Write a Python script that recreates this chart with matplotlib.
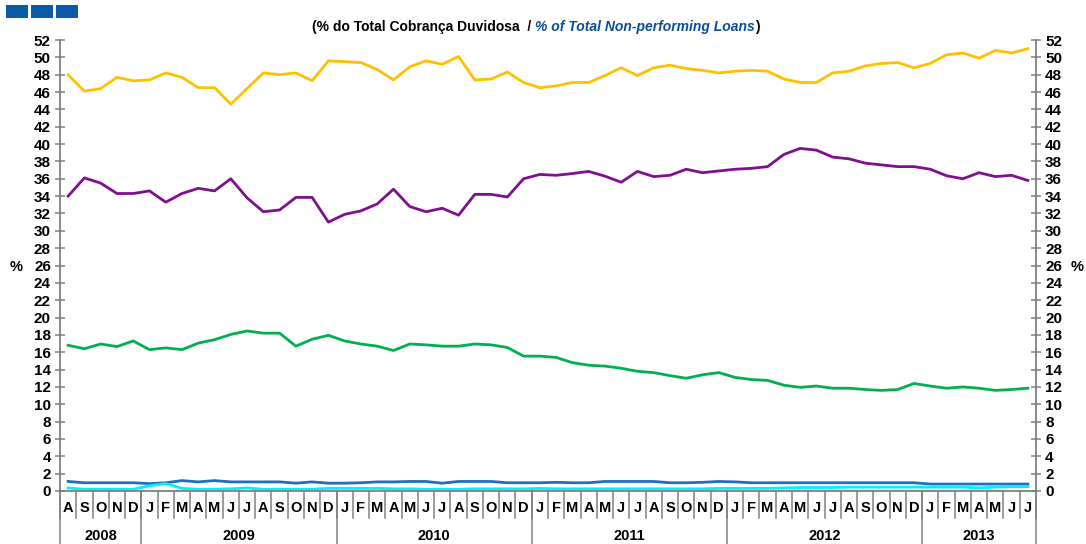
import matplotlib
matplotlib.use("Agg")
import matplotlib.pyplot as plt
from matplotlib.patches import Rectangle
import numpy as np

plt.rcParams['font.family'] = ['Liberation Sans', 'DejaVu Sans']

months = (['A', 'S', 'O', 'N', 'D'] + ['J', 'F', 'M', 'A', 'M', 'J', 'J', 'A', 'S', 'O', 'N', 'D'] * 4
          + ['J', 'F', 'M', 'A', 'M', 'J', 'J'])
years = ['2008', '2009', '2010', '2011', '2012', '2013']
year_counts = [5, 12, 12, 12, 12, 7]

yellow = [48.0, 46.1, 46.4, 47.7, 47.3,
          47.4, 48.2, 47.7, 46.5, 46.5, 44.6, 46.4, 48.2, 48.0, 48.2, 47.3, 49.6,
          49.5, 49.4, 48.6, 47.4, 48.9, 49.6, 49.2, 50.1, 47.4, 47.5, 48.3, 47.1,
          46.5, 46.7, 47.1, 47.1, 47.9, 48.8, 47.9, 48.8, 49.1, 48.7, 48.5, 48.2,
          48.4, 48.5, 48.4, 47.5, 47.1, 47.1, 48.2, 48.4, 49.0, 49.3, 49.4, 48.8,
          49.3, 50.3, 50.5, 49.9, 50.8, 50.5, 51.0]
purple = [34.0, 36.1, 35.5, 34.3, 34.3,
          34.6, 33.3, 34.3, 34.9, 34.6, 36.0, 33.8, 32.2, 32.4, 33.85, 33.85, 31.0,
          31.9, 32.3, 33.1, 34.8, 32.8, 32.2, 32.6, 31.8, 34.2, 34.2, 33.9, 36.0,
          36.5, 36.4, 36.6, 36.85, 36.3, 35.6, 36.85, 36.25, 36.4, 37.1, 36.7, 36.9,
          37.1, 37.2, 37.4, 38.8, 39.5, 39.3, 38.5, 38.3, 37.8, 37.6, 37.4, 37.4,
          37.1, 36.35, 36.0, 36.7, 36.25, 36.4, 35.8]
green = [16.8, 16.4, 16.95, 16.65, 17.3,
         16.3, 16.5, 16.3, 17.05, 17.45, 18.05, 18.45, 18.2, 18.2, 16.7, 17.5, 17.95,
         17.3, 16.95, 16.7, 16.2, 16.95, 16.85, 16.7, 16.7, 16.95, 16.85, 16.55, 15.55,
         15.55, 15.4, 14.8, 14.5, 14.4, 14.15, 13.8, 13.65, 13.3, 13.0, 13.4, 13.65,
         13.1, 12.85, 12.75, 12.2, 11.95, 12.1, 11.85, 11.85, 11.7, 11.6, 11.7, 12.4,
         12.1, 11.85, 12.0, 11.85, 11.6, 11.7, 11.85]
darkblue = [1.1, 0.95, 0.95, 0.95, 0.95,
            0.85, 0.95, 1.2, 1.05, 1.2, 1.05, 1.05, 1.05, 1.05, 0.9, 1.05, 0.9,
            0.9, 0.95, 1.05, 1.05, 1.1, 1.1, 0.9, 1.1, 1.1, 1.1, 0.95, 0.95,
            0.95, 1.0, 0.95, 0.95, 1.1, 1.1, 1.1, 1.1, 0.95, 0.95, 1.0, 1.1,
            1.05, 0.95, 0.95, 0.95, 0.95, 0.95, 0.95, 0.95, 0.95, 0.95, 0.95, 0.95,
            0.8, 0.8, 0.8, 0.8, 0.8, 0.8, 0.8]
cyan = [0.35, 0.2, 0.2, 0.2, 0.2,
        0.6, 0.85, 0.3, 0.2, 0.2, 0.25, 0.35, 0.2, 0.2, 0.2, 0.2, 0.3,
        0.3, 0.3, 0.3, 0.25, 0.25, 0.2, 0.2, 0.2, 0.25, 0.25, 0.25, 0.25,
        0.3, 0.25, 0.25, 0.25, 0.25, 0.25, 0.25, 0.25, 0.25, 0.25, 0.25, 0.3,
        0.3, 0.3, 0.3, 0.35, 0.4, 0.4, 0.4, 0.45, 0.45, 0.45, 0.45, 0.45,
        0.45, 0.45, 0.45, 0.35, 0.45, 0.5, 0.5]

W, H = 1086, 544
fig = plt.figure(figsize=(W / 100, H / 100), dpi=100)
ax = fig.add_axes([60 / W, 1 - 491 / H, 976 / W, 451 / H])

x = np.arange(len(months))
lw = 2.0
ax.plot(x, yellow, color='#FFC000', lw=lw)
ax.plot(x, purple, color='#7F0F8F', lw=lw)
ax.plot(x, green, color='#00B050', lw=lw)
ax.plot(x, darkblue, color='#1F6FC0', lw=lw)
ax.plot(x, cyan, color='#00F0FF', lw=lw)

ax.set_xlim(-0.5, len(months) - 0.5)
ax.set_ylim(0, 52)
ax.set_yticks(np.arange(0, 53, 2))
ax.set_xticks([])

gray = '#808080'
ax.spines['top'].set_visible(False)
for s in ['left', 'right', 'bottom']:
    ax.spines[s].set_color(gray)
    ax.spines[s].set_linewidth(1.3)

ax.tick_params(axis='y', which='both', direction='inout', length=7, width=1.1, color=gray,
               labelsize=11, pad=3, left=True, right=True, labelleft=True, labelright=True)
for lab in ax.get_yticklabels():
    lab.set_fontweight('bold')

trans = ax.get_xaxis_transform()
# month separators
for i in range(len(months) + 1):
    ax.plot([i - 0.5, i - 0.5], [0, -0.06], transform=trans, color=gray, lw=1.1, clip_on=False)
for i, m in enumerate(months):
    ax.text(i, -0.038, m, transform=trans, ha='center', va='center', fontsize=10.5,
            fontweight='bold', color='black')
# year separators and labels
bounds = [0]
for c in year_counts:
    bounds.append(bounds[-1] + c)
for b in bounds:
    ax.plot([b - 0.5, b - 0.5], [0, -0.125], transform=trans, color=gray, lw=1.1, clip_on=False)
for y, a, b in zip(years, bounds[:-1], bounds[1:]):
    ax.text((a + b - 1) / 2, -0.1, y, transform=trans, ha='center', va='center', fontsize=10.5,
            fontweight='bold', color='black')

fig.text(16 / W, 1 - 267 / H, '%', ha='center', va='center', fontsize=10.5, fontweight='bold')
fig.text(1077 / W, 1 - 267 / H, '%', ha='center', va='center', fontsize=10.5, fontweight='bold')

# header blue squares
for x0 in [6, 31, 56]:
    fig.add_artist(Rectangle((x0 / W, 1 - 18 / H), 22 / W, 13 / H, transform=fig.transFigure,
                             facecolor='#0A5AA5', edgecolor='none'))

# title with mixed styles
fig.canvas.draw()
renderer = fig.canvas.get_renderer()
ty = 1 - 27 / H
parts = [('(% do Total Cobrança Duvidosa  / ', 'black', 'normal'),
         ('% of Total Non-performing Loans', '#0A4F95', 'italic'),
         (')', 'black', 'normal')]
xpos = 312 / W
for txt, col, sty in parts:
    t = fig.text(xpos, ty, txt, ha='left', va='center', fontsize=10, fontweight='bold',
                 color=col, style=sty)
    bb = t.get_window_extent(renderer=renderer)
    xpos = bb.x1 / W

fig.savefig('out.png', dpi=100)
